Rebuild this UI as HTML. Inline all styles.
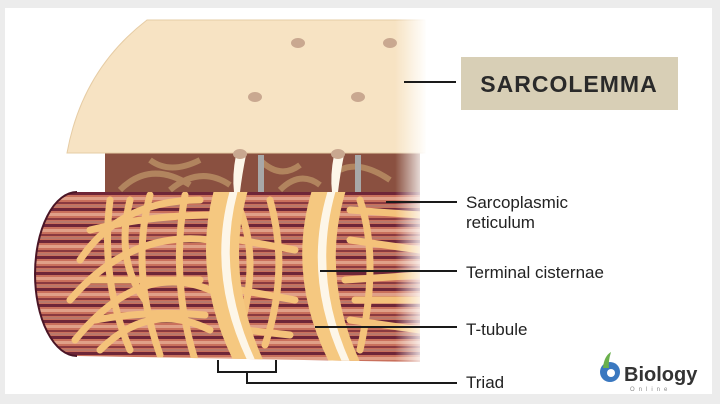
<!DOCTYPE html>
<html><head><meta charset="utf-8"><style>
html,body{margin:0;padding:0;background:#ececec}
body{width:720px;height:404px;overflow:hidden;position:relative}
.fr{position:absolute;left:5px;top:8px;width:707px;height:386px;background:#fff}
svg{position:absolute;left:0;top:0}
text{font-family:"Liberation Sans",sans-serif}
</style></head><body>
<div class="fr"></div>
<svg width="720" height="404" viewBox="0 0 720 404">
<defs>
<linearGradient id="fade" x1="0" x2="1" y1="0" y2="0">
<stop offset="0" stop-color="#fff" stop-opacity="0"/>
<stop offset="1" stop-color="#fff" stop-opacity="1"/>
</linearGradient>
<pattern id="stripes" width="40" height="16" patternUnits="userSpaceOnUse">
<rect width="40" height="16" fill="#c9705c"/>
<rect y="0" width="40" height="3" fill="#6e2638"/>
<rect y="5" width="40" height="3" fill="#e0a088"/>
<rect y="10" width="40" height="2" fill="#8a3a40"/>
<rect y="13" width="40" height="2" fill="#b8786a"/>
</pattern>
<clipPath id="cyl"><path d="M77,192 L420,192 L420,362 L77,356 A42,82 0 0 1 77,192 Z"/></clipPath>
</defs>
<!-- back upper fiber -->
<rect x="105" y="150" width="315" height="45" fill="#8a5040"/>
<g fill="none" stroke="#b58a62" stroke-width="6" opacity="0.9">
<path d="M120,190 Q150,160 190,185 M150,160 Q170,175 200,160 M170,190 Q200,165 230,185 M260,160 Q280,180 300,165 M280,190 Q300,170 320,185 M340,170 Q360,160 390,180"/>
</g>
<rect x="258" y="155" width="6" height="40" fill="#a8a8a8"/>
<rect x="355" y="155" width="6" height="40" fill="#a8a8a8"/>
<!-- main cylinder -->
<g clip-path="url(#cyl)">
<rect x="30" y="185" width="400" height="180" fill="url(#stripes)"/>
<g fill="none" stroke="#f4c27a" stroke-width="7" stroke-linecap="round">
<path d="M80,260 Q120,200 200,200 M70,300 Q130,230 210,240 M75,340 Q140,260 210,290 M100,350 Q150,300 210,330 M90,230 Q150,215 215,215"/>
<path d="M110,200 Q100,280 130,350 M150,195 Q130,270 160,355 M185,195 Q170,280 195,360 M130,200 Q115,260 145,300"/>
<path d="M90,280 L200,280 M95,320 Q150,310 205,315 M240,210 Q260,260 240,330 M270,200 Q290,270 265,345 M240,240 L295,250 M240,290 L295,300 M245,330 L290,335 M350,210 L420,215 M350,240 L420,250 M345,280 L420,275 M350,320 L420,330 M360,200 Q380,260 360,350 M355,300 L420,300"/>
</g>
<!-- cisternae bands -->
<path d="M214,190 Q191,275 234,362 L264,362 Q224,275 248,190 Z" fill="#f5c880"/>
<path d="M312,190 Q286,275 329,362 L360,362 Q320,275 346,190 Z" fill="#f5c880"/>
<path d="M230,190 Q206,275 248,362 L256,362 Q215,275 238,190 Z" fill="#fdf6e8"/>
<path d="M328,190 Q302,275 342,362 L350,362 Q311,275 336,190 Z" fill="#fdf6e8"/>
</g>
<path d="M77,192 A42,82 0 0 0 77,356" fill="none" stroke="#4a1525" stroke-width="2"/>
<!-- T-tubule necks -->
<path d="M236,155 Q232,175 234,192 L240,192 Q242,175 246,155 Z" fill="#fdf6e8"/>
<path d="M334,155 Q330,175 332,192 L338,192 Q340,175 344,155 Z" fill="#fdf6e8"/>
<!-- sarcolemma slab -->
<path d="M147,20 L425,20 L425,153 L67,153 Q82,70 147,20 Z" fill="#f7e3c3" stroke="#e6cca4" stroke-width="1"/>
<g fill="#c9a890"><ellipse cx="298" cy="43" rx="7" ry="5"/><ellipse cx="390" cy="43" rx="7" ry="5"/><ellipse cx="255" cy="97" rx="7" ry="5"/><ellipse cx="358" cy="97" rx="7" ry="5"/><ellipse cx="240" cy="154" rx="7" ry="5"/><ellipse cx="338" cy="154" rx="7" ry="5"/></g>
<!-- fade -->
<rect x="395" y="15" width="32" height="355" fill="url(#fade)"/>
<rect x="426" y="15" width="20" height="355" fill="#fff"/>
<!-- label box -->
<rect x="461" y="57" width="217" height="53" fill="#d8cfb6"/>
<text x="569" y="92" font-size="23" font-weight="bold" fill="#2a2a2a" text-anchor="middle" letter-spacing="1">SARCOLEMMA</text>
<g stroke="#1a1a1a" stroke-width="2" fill="none">
<line x1="404" y1="82" x2="456" y2="82"/>
<line x1="386" y1="202" x2="457" y2="202"/>
<line x1="320" y1="271" x2="457" y2="271"/>
<line x1="315" y1="327" x2="457" y2="327"/>
<path d="M218,360 V372 H276 V360 M247,372 V383 H457"/>
</g>
<g font-size="17" fill="#222">
<text x="466" y="208">Sarcoplasmic</text>
<text x="466" y="228">reticulum</text>
<text x="466" y="278">Terminal cisternae</text>
<text x="466" y="335">T-tubule</text>
<text x="466" y="388">Triad</text>
</g>
<!-- logo -->
<circle cx="610" cy="372" r="10" fill="#3a78c0"/>
<circle cx="611" cy="373" r="4" fill="#fff"/>
<path d="M603,368 Q604,356 611,352 Q608,362 609,368 Z" fill="#6ab04c"/>
<text x="624" y="381" font-size="20" font-weight="bold" fill="#333">Biology</text>
<text x="630" y="391" font-size="6" fill="#888" letter-spacing="4">Online</text>
</svg>
</body></html>
